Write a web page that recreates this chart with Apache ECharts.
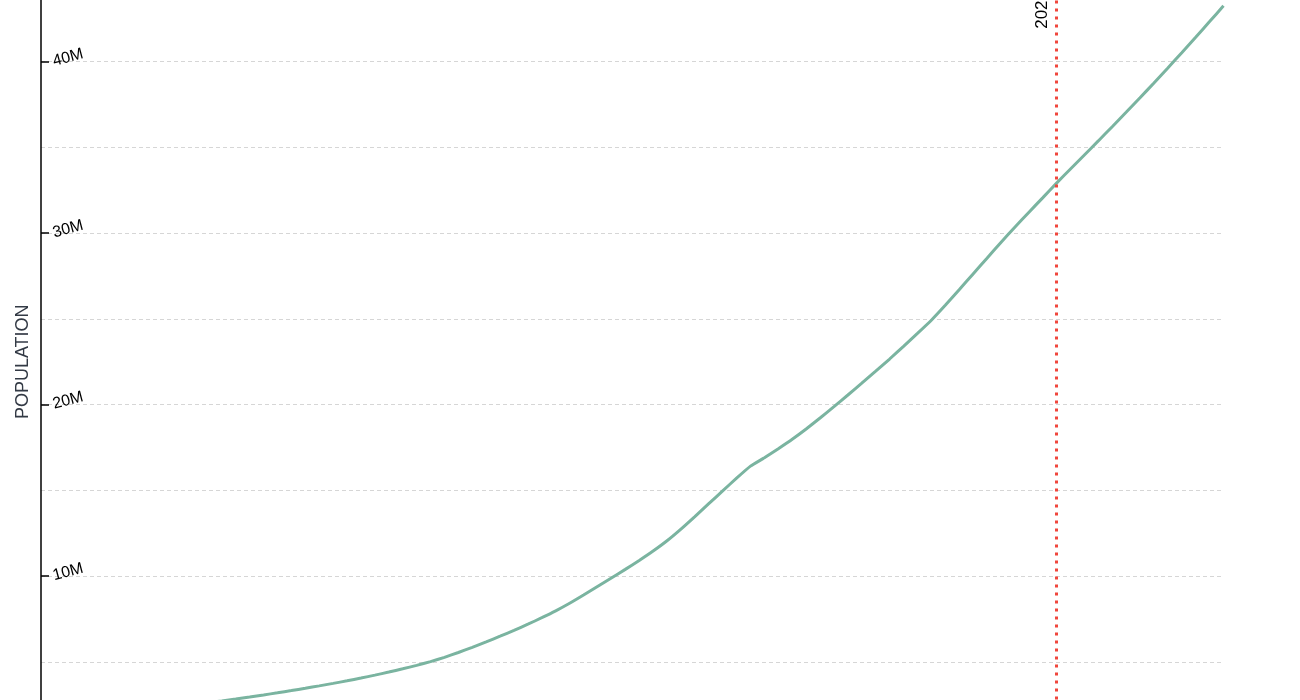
<!DOCTYPE html>
<html>
<head>
<meta charset="utf-8">
<script src="https://cdn.jsdelivr.net/npm/echarts@6/dist/echarts.min.js"></script>
<style>
html,body{margin:0;padding:0;background:#fff;overflow:hidden;}
#chart{position:absolute;left:0;top:-100px;width:1300px;height:900px;}
</style>
</head>
<body>
<div id="chart"></div>
<script>
const years = [1950,1951,1952,1953,1954,1955,1956,1957,1958,1959,
  1960,1961,1962,1963,1964,1965,1966,1967,1968,1969,
  1970,1971,1972,1973,1974,1975,1976,1977,1978,1979,
  1980,1981,1982,1983,1984,1985,1986,1987,1988,1989,
  1990,1991,1992,1993,1994,1995,1996,1997,1998,1999,
  2000,2001,2002,2003,2004,2005,2006,2007,2008,2009,
  2010,2011,2012,2013,2014,2015,2016,2017,2018,2019,
  2020,2021,2022,2023,2024,2025,2026,2027,2028,2029,
  2030,2031,2032,2033,2034,2035];
// population in millions
const population = [1.67,1.73,1.79,1.86,1.93,2.00,2.08,2.16,2.24,2.33,
  2.42,2.52,2.62,2.72,2.83,2.945,3.065,3.19,3.32,3.455,
  3.595,3.74,3.89,4.05,4.22,4.40,4.59,4.79,5.01,5.26,
  5.54,5.84,6.16,6.49,6.83,7.19,7.57,7.97,8.41,8.89,
  9.39,9.89,10.39,10.91,11.46,12.06,12.74,13.47,14.22,14.97,
  15.71,16.41,16.90,17.43,17.98,18.58,19.22,19.88,20.56,21.25,
  21.95,22.66,23.40,24.15,24.92,25.79,26.70,27.62,28.54,29.46,
  30.35,31.21,32.06,32.92,33.74,34.56,35.38,36.21,37.05,37.90,
  38.76,39.64,40.53,41.43,42.34,43.26];
const markYear = 2023;
const markLabel = '2023';
const yAxisName = 'POPULATION';

const FONT = 'Liberation Sans, Arial, sans-serif';
const chart = echarts.init(document.getElementById('chart'));
chart.setOption({
  animation: false,
  textStyle: { fontFamily: FONT },
  grid: { left: 41, right: 76.5, top: 76, bottom: 52.5 },
  xAxis: {
    type: 'value', min: 1950, max: 2035,
    axisLine: { lineStyle: { color: '#000' } },
    splitLine: { show: false },
    axisLabel: { color: '#000' }
  },
  yAxis: [{
    type: 'value', min: 0, max: 45000000, interval: 5000000,
    axisLine: { show: false },
    axisTick: { show: false },
    axisLabel: { show: false },
    splitLine: { show: true, lineStyle: { color: '#d6d6d6', type: [4, 3], width: 1 } }
  }, {
    type: 'value', min: 0, max: 45000000, interval: 10000000, position: 'left',
    name: yAxisName, nameLocation: 'middle', nameGap: 8.5,
    nameTextStyle: { fontSize: 18, color: '#333a45', fontFamily: FONT },
    axisLine: { show: true, lineStyle: { color: '#000', width: 1.5 } },
    axisTick: { show: true, inside: true, length: 8, lineStyle: { color: '#000', width: 1.5 } },
    axisLabel: {
      inside: true, rotate: 15, margin: 12, fontSize: 16, color: '#000',
      verticalAlign: 'middle', padding: [0, 0, 11, 0],
      formatter: v => (v === 0 || v > 40000000) ? '' : (v / 1000000) + 'M'
    },
    splitLine: { show: false }
  }],
  series: [{
    type: 'line',
    yAxisIndex: 0,
    data: years.map((y, i) => [y, population[i] * 1000000]),
    showSymbol: false,
    smooth: 0.15,
    lineStyle: { color: '#7ab4a0', width: 3 },
    markLine: {
      symbol: 'none', silent: true,
      lineStyle: { color: '#f0463c', type: [3, 5], width: 3 },
      label: { show: true, position: 'insideEndTop', distance: [15, 6], formatter: markLabel, color: '#000', fontSize: 17 },
      data: [{ xAxis: markYear }]
    }
  }]
});
</script>
</body>
</html>
